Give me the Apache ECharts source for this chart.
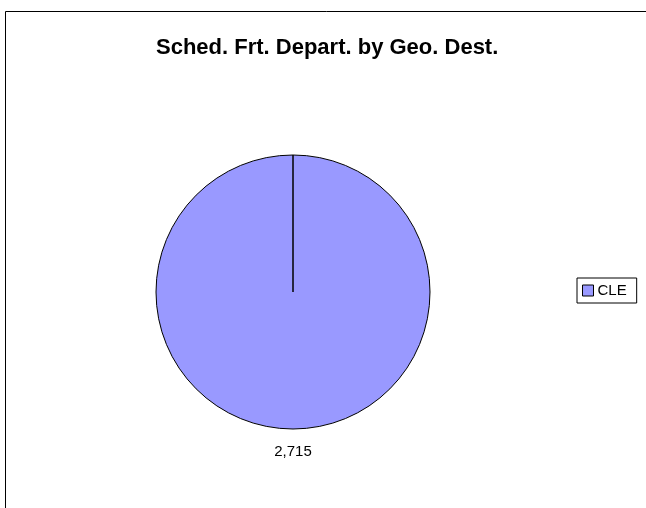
<!DOCTYPE html>
<html>
<head>
<meta charset="utf-8">
<script src="https://cdn.jsdelivr.net/npm/echarts@6/dist/echarts.min.js"></script>
<style>
  html, body { margin: 0; padding: 0; background: #fff; }
  #chart { width: 646px; height: 508px; }
</style>
</head>
<body>
<div id="chart"></div>
<script>
// data
const categories = ['CLE']
const values = [2715]

const chart = echarts.init(document.getElementById('chart'), null, { renderer: 'canvas' })

// slices, plus a zero slice so the start edge gets stroked like the original
const pieData = categories.map((name, i) => ({ name: name, value: values[i] }))
pieData.push({ name: '', value: 0, label: { show: false }, tooltip: { show: false } })

const option = {
  backgroundColor: '#fff',
  animation: false,
  title: {
    text: 'Sched. Frt. Depart. by Geo. Dest.',
    left: 156,
    top: 37,
    padding: 0,
    textStyle: {
      fontFamily: 'Liberation Sans, Arial, sans-serif',
      fontSize: 22,
      fontWeight: 'bold',
      color: '#000'
    }
  },
  legend: {
    data: categories,
    orient: 'vertical',
    left: 577,
    top: 278,
    padding: [5, 10, 5, 5],
    borderColor: '#000',
    borderWidth: 1,
    icon: 'rect',
    itemWidth: 11,
    itemHeight: 11,
    itemGap: 4,
    itemStyle: { borderColor: '#000', borderWidth: 1 },
    textStyle: {
      fontFamily: 'Liberation Sans, Arial, sans-serif',
      fontSize: 15,
      color: '#000',
      padding: [0, 0, 0, -1]
    }
  },
  graphic: [{
    type: 'rect',
    silent: true,
    shape: { x: 5.5, y: 11.5, width: 700, height: 600 },
    style: { fill: 'none', stroke: '#000', lineWidth: 1 }
  }],
  series: [{
    type: 'pie',
    center: [293, 292],
    radius: 137,
    startAngle: 90,
    clockwise: true,
    avoidLabelOverlap: false,
    color: ['#9999FF', '#9999FF'],
    itemStyle: { borderColor: '#000', borderWidth: 1 },
    emphasis: { disabled: true },
    label: {
      show: true,
      position: 'outside',
      formatter: (p) => p.value.toLocaleString('en-US'),
      fontFamily: 'Liberation Sans, Arial, sans-serif',
      fontSize: 15,
      color: '#000'
    },
    labelLine: { show: false, length: 23, length2: 0 },
    // centre the value label under the slice edge point
    labelLayout: (p) => (p.labelLinePoints ? { x: p.labelLinePoints[0][0], align: 'center' } : {}),
    data: pieData
  }]
}

chart.setOption(option)
</script>
</body>
</html>
